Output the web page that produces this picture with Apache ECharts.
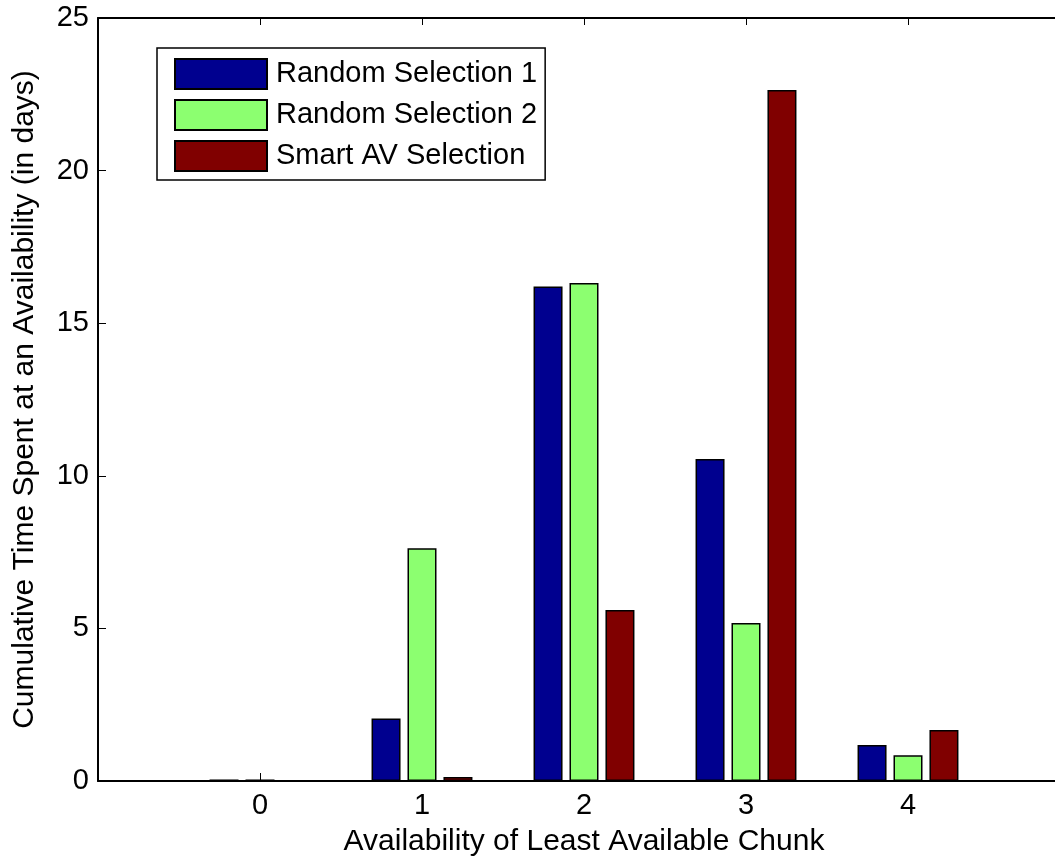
<!DOCTYPE html>
<html>
<head>
<meta charset="utf-8">
<script src="https://cdn.jsdelivr.net/npm/echarts@6/dist/echarts.min.js"></script>
<style>
html,body{margin:0;padding:0;background:#fff;}
#c{width:1055px;height:859px;}
</style>
</head>
<body>
<div id="c"></div>
<script>
const categories = ['0', '1', '2', '3', '4'];
const seriesNames = ['Random Selection 1', 'Random Selection 2', 'Smart AV Selection'];
const random1 = [0.05, 2.05, 16.2, 10.55, 1.18];
const random2 = [0.05, 7.63, 16.32, 5.18, 0.84];
const smartAV = [0, 0.13, 5.6, 22.64, 1.67];
const yTicks = [0, 5, 10, 15, 20, 25];

const colors = ['#00008F', '#8CFF70', '#800000'];
const FONT = 'Liberation Sans, Arial, Helvetica, sans-serif';
const FS = 29;

// pad with empty slots on each side so the axis spans -1 .. 5
const axisCats = [''].concat(categories, ['']);
function pad(arr) { return [null].concat(arr, [null]); }

const chart = echarts.init(document.getElementById('c'), null, {renderer: 'canvas'});
const allSeries = [random1, random2, smartAV].map((d, i) => ({
  name: seriesNames[i],
  type: 'bar',
  data: pad(d),
  barWidth: 29,
  barGap: '24%',
  itemStyle: {color: colors[i], borderColor: '#000', borderWidth: 1.5},
  emphasis: {disabled: true},
  animation: false
}));

chart.setOption({
  animation: false,
  backgroundColor: '#fff',
  textStyle: {fontFamily: FONT},
  grid: {left: 98, top: 18, width: 972, height: 763, containLabel: false, outerBoundsMode: 'none'},
  legend: {
    orient: 'vertical',
    left: 157,
    top: 48,
    width: 380,
    itemWidth: 92,
    itemHeight: 30,
    itemGap: 9,
    padding: [10, 8, 8, 17],
    borderColor: '#000',
    borderWidth: 1.5,
    backgroundColor: '#fff',
    icon: 'rect',
    textStyle: {fontSize: FS, color: '#000', fontFamily: FONT, padding: [0, 0, 0, 4]},
    data: seriesNames
  },
  xAxis: [{
    type: 'category',
    data: axisCats,
    boundaryGap: false,
    position: 'bottom',
    name: 'Availability of Least Available Chunk',
    nameLocation: 'middle',
    nameGap: 46,
    nameTextStyle: {fontSize: 30, color: '#000', fontFamily: FONT},
    axisLine: {show: true, lineStyle: {color: '#000', width: 2}},
    axisTick: {show: true, inside: true, length: 8, lineStyle: {color: '#000', width: 1}},
    axisLabel: {fontSize: FS, color: '#000', margin: 10, fontFamily: FONT, interval: 0},
    splitLine: {show: false}
  }, {
    type: 'category',
    data: axisCats,
    boundaryGap: false,
    position: 'top',
    axisLine: {show: true, lineStyle: {color: '#000', width: 2}},
    axisTick: {show: true, inside: true, length: 7, lineStyle: {color: '#000', width: 1}},
    axisLabel: {show: false},
    splitLine: {show: false}
  }],
  yAxis: {
    type: 'value',
    min: 0,
    max: 25,
    interval: 5,
    name: 'Cumulative Time Spent at an Availability (in days)',
    nameLocation: 'middle',
    nameGap: 58,
    nameTextStyle: {fontSize: 30, color: '#000', fontFamily: FONT},
    axisLine: {show: true, lineStyle: {color: '#000', width: 2}},
    axisTick: {show: true, inside: true, length: 8, lineStyle: {color: '#000', width: 1}},
    axisLabel: {fontSize: FS, color: '#000', margin: 9, fontFamily: FONT,
      formatter: v => yTicks.indexOf(v) >= 0 ? String(v) : ''},
    splitLine: {show: false}
  },
  series: allSeries
});
</script>
</body>
</html>
